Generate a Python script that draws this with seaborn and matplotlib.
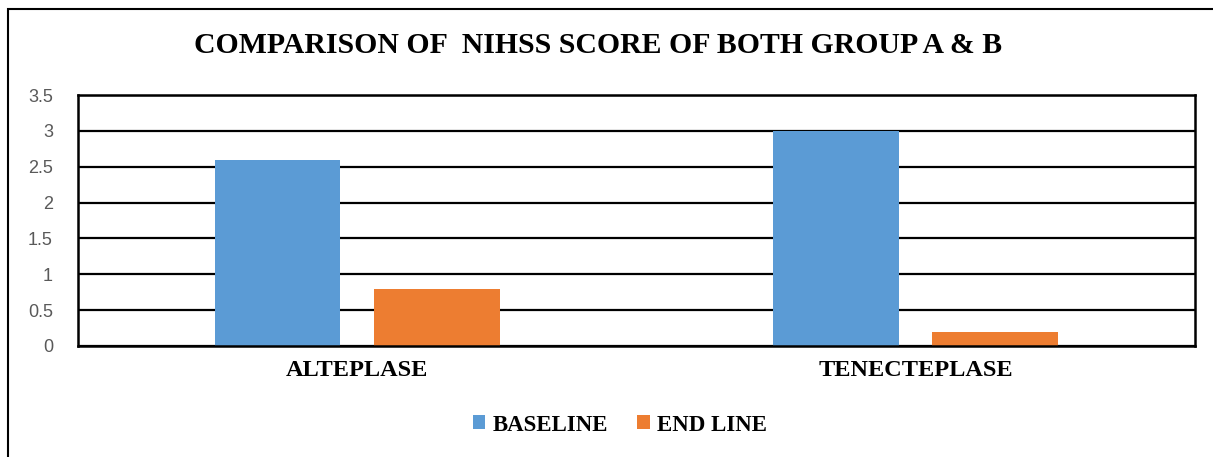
import matplotlib
matplotlib.use('Agg')
import matplotlib.pyplot as plt
import pandas as pd
import seaborn as sns
from matplotlib.patches import Rectangle

# ── data ─────────────────────────────────────────────────────────────────────
GROUPS   = ["ALTEPLASE", "TENECTEPLASE"]
SERIES   = ["BASELINE", "END LINE"]
BASELINE = [2.6, 3.0]
END_LINE = [0.8, 0.2]
Y_TICKS  = [0, 0.5, 1, 1.5, 2, 2.5, 3, 3.5]
Y_LABELS = ["0", "0.5", "1", "1.5", "2", "2.5", "3", "3.5"]

df = pd.DataFrame({
    "group": GROUPS * 2,
    "series": [SERIES[0]] * len(GROUPS) + [SERIES[1]] * len(GROUPS),
    "score": BASELINE + END_LINE,
})

PALETTE = {"BASELINE": "#5B9BD5", "END LINE": "#ED7D31"}
SERIF = ["Liberation Serif", "DejaVu Serif"]

sns.set_style("white")
fig = plt.figure(figsize=(12.13, 4.57), dpi=100)
ax = fig.add_axes([0.0643, 0.243, 0.9207, 0.549])

sns.barplot(data=df, x="group", y="score", hue="series", palette=PALETTE,
            width=0.57, gap=0.21, saturation=1, linewidth=0, ax=ax, legend=True)

ax.set_ylim(0, 3.5)
ax.set_xlim(-0.5, 1.5)
ax.set_yticks(Y_TICKS)
ax.set_yticklabels(Y_LABELS, family=["Liberation Sans", "DejaVu Sans"],
                   fontsize=13, color="#595959")
ax.tick_params(axis="y", length=0, pad=18)
ax.tick_params(axis="x", length=0, pad=10)
for lab in ax.get_xticklabels():
    lab.set_family(SERIF)
    lab.set_fontweight("bold")
    lab.set_fontsize(17.5)
    lab.set_color("black")
ax.set_xlabel(""); ax.set_ylabel("")
ax.grid(axis="y", color="black", linewidth=1.6)
ax.set_axisbelow(True)
for sp in ax.spines.values():
    sp.set_visible(True)
    sp.set_color("black")
    sp.set_linewidth(1.8)

ax.legend_.remove()
handles, labels = ax.get_legend_handles_labels()
leg = fig.legend(handles, labels, loc="center", bbox_to_anchor=(0.511, 0.07),
                 ncol=2, frameon=False, handlelength=0.55, handleheight=0.55,
                 handletextpad=0.3, columnspacing=1.3,
                 prop={"family": SERIF, "weight": "bold", "size": 16.5})
for t in leg.get_texts():
    t.set_color("black")

fig.text(0.493, 0.90, "COMPARISON OF  NIHSS SCORE OF BOTH GROUP A & B",
         ha="center", va="center", family=SERIF, fontweight="bold",
         fontsize=21.4, color="black")

# outer chart frame (top and left edges visible)
fig.patches.append(Rectangle((0.0066, -0.2), 1.2, 1.18, transform=fig.transFigure,
                             fill=False, edgecolor="black", linewidth=1.5))

fig.savefig("out.png", dpi=100)
